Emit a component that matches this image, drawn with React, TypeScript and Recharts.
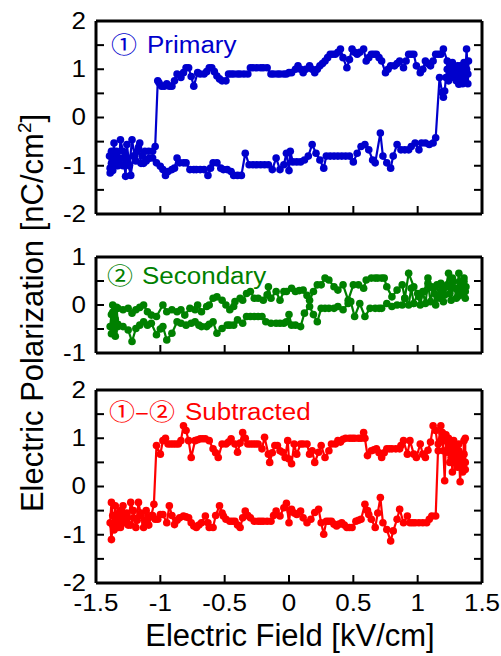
import React from "react";
import { ScatterChart, Scatter, XAxis, YAxis } from "recharts";

// tick values
const xTicks = [-1.5, -1, -0.5, 0, 0.5, 1, 1.5];
const yTicksWide = [-2, -1.5, -1, -0.5, 0, 0.5, 1, 1.5, 2];
const yTicksNarrow = [-1, -0.5, 0, 0.5, 1];

// ① Primary  [field kV/cm, polarization nC/cm2]
const primaryLower: [number, number][] = [
  [-1.06, -0.84], [-1.03, -0.94], [-1.0, -1.01], [-0.98, -1.08], [-0.96, -1.2], [-0.94, -1.12], [-0.91, -1.08],
  [-0.89, -1.05], [-0.87, -0.84], [-0.85, -0.94], [-0.82, -0.94], [-0.8, -0.94], [-0.77, -1.08], [-0.74, -1.08],
  [-0.72, -1.08], [-0.69, -1.08], [-0.66, -1.08], [-0.63, -1.2], [-0.61, -1.05], [-0.59, -0.94], [-0.56, -0.94],
  [-0.53, -1.05], [-0.51, -1.08], [-0.48, -1.08], [-0.45, -1.12], [-0.43, -1.2], [-0.4, -1.2], [-0.37, -1.2],
  [-0.34, -0.74], [-0.31, -0.98], [-0.28, -0.98], [-0.25, -0.98], [-0.22, -0.98], [-0.19, -0.98], [-0.16, -0.98],
  [-0.13, -1.08], [-0.1, -0.84], [-0.07, -1.08], [-0.04, -0.98], [-0.02, -0.74], [0.0, -1.1], [0.01, -0.7],
  [0.03, -0.92], [0.06, -0.92], [0.09, -0.92], [0.12, -0.88], [0.15, -0.8], [0.18, -0.56], [0.21, -0.74],
  [0.24, -0.88], [0.27, -1.05], [0.29, -0.8], [0.32, -0.8], [0.35, -0.8], [0.38, -0.8], [0.41, -0.8],
  [0.44, -0.8], [0.47, -0.8], [0.5, -0.92], [0.53, -0.74], [0.56, -0.6], [0.59, -0.56], [0.62, -0.67],
  [0.65, -0.88], [0.67, -0.94], [0.71, -0.32], [0.73, -0.8], [0.76, -0.94], [0.79, -1.05], [0.81, -0.8],
  [0.84, -0.56], [0.87, -0.67], [0.9, -0.67], [0.93, -0.67], [0.95, -0.6], [0.98, -0.53], [1.01, -0.67],
  [1.03, -0.53], [1.06, -0.53], [1.09, -0.56], [1.12, -0.53], [1.14, -0.42],
];
const primaryRight: [number, number][] = [
  [1.17, 0.83], [1.19, 0.52], [1.2, 0.42], [1.21, 0.55], [1.22, 0.83], [1.23, 1.0], [1.24, 0.76], [1.25, 1.07],
  [1.26, 0.9], [1.27, 1.14], [1.28, 0.83], [1.29, 1.03], [1.3, 0.76], [1.31, 1.0], [1.32, 0.69], [1.33, 1.07],
  [1.34, 0.9], [1.35, 0.7], [1.36, 1.14], [1.37, 0.83], [1.38, 1.42], [1.39, 0.9], [1.395, 1.17], [1.39, 0.7],
  [1.38, 1.0], [1.37, 0.79], [1.35, 1.03], [1.33, 0.83], [1.31, 1.07], [1.29, 0.9], [1.27, 1.03],
];
const primaryUpper: [number, number][] = [
  [1.25, 1.07], [1.23, 1.17], [1.2, 1.42], [1.18, 1.31], [1.16, 1.31], [1.14, 1.31], [1.12, 1.17], [1.1, 1.07],
  [1.08, 1.12], [1.06, 1.17], [1.04, 1.0], [1.02, 0.93], [0.99, 1.07], [0.97, 1.31], [0.95, 1.31], [0.93, 1.31],
  [0.91, 1.17], [0.89, 1.03], [0.86, 1.17], [0.84, 1.12], [0.82, 1.07], [0.79, 1.07], [0.77, 1.0], [0.75, 0.93],
  [0.72, 1.17], [0.7, 1.24], [0.68, 1.31], [0.66, 1.31], [0.64, 1.31], [0.62, 1.24], [0.6, 1.17], [0.58, 1.42],
  [0.55, 1.35], [0.53, 1.31], [0.51, 1.35], [0.49, 1.42], [0.47, 1.2], [0.45, 1.03], [0.42, 1.24], [0.4, 1.42],
  [0.38, 1.35], [0.36, 1.31], [0.34, 1.31], [0.32, 1.31], [0.3, 1.24], [0.28, 1.17], [0.26, 1.12], [0.24, 1.07],
  [0.22, 1.0], [0.2, 0.93], [0.18, 1.0], [0.16, 1.07], [0.13, 1.0], [0.11, 0.93], [0.09, 1.0], [0.07, 1.07],
  [0.05, 1.0], [0.02, 0.93], [0.0, 0.93], [-0.02, 0.9], [-0.04, 0.9], [-0.07, 0.9], [-0.09, 0.9], [-0.12, 0.9],
  [-0.14, 0.9], [-0.17, 1.03], [-0.2, 1.03], [-0.22, 1.03], [-0.25, 1.03], [-0.28, 1.03], [-0.3, 1.03],
  [-0.32, 0.9], [-0.35, 0.9], [-0.38, 0.9], [-0.4, 0.9], [-0.43, 0.9], [-0.45, 0.9], [-0.47, 0.9], [-0.49, 0.76],
  [-0.52, 0.76], [-0.54, 0.8], [-0.56, 0.86], [-0.58, 0.95], [-0.6, 1.03], [-0.62, 1.03], [-0.64, 0.95],
  [-0.66, 0.9], [-0.69, 0.9], [-0.71, 0.93], [-0.74, 0.65], [-0.76, 0.85], [-0.78, 1.03], [-0.8, 1.03],
  [-0.82, 0.93], [-0.84, 0.83], [-0.87, 0.9], [-0.89, 0.76], [-0.91, 0.65], [-0.93, 0.65], [-0.95, 0.7],
  [-0.97, 0.65], [-0.99, 0.65], [-1.01, 0.72], [-1.02, 0.76],
];
const primaryLeft: [number, number][] = [
  [-1.04, -0.6], [-1.06, -0.7], [-1.09, -0.7], [-1.12, -0.7], [-1.14, -0.8], [-1.16, -0.53], [-1.18, -0.7],
  [-1.2, -0.8], [-1.22, -0.46], [-1.24, -1.0], [-1.26, -0.56], [-1.27, -1.22], [-1.29, -0.7], [-1.31, -0.46],
  [-1.32, -0.9], [-1.34, -0.7], [-1.35, -1.0], [-1.36, -0.53], [-1.37, -0.85], [-1.38, -0.7], [-1.39, -1.05],
  [-1.395, -0.8], [-1.39, -1.15], [-1.38, -0.95], [-1.37, -1.1], [-1.35, -0.75], [-1.33, -1.0], [-1.31, -0.85],
  [-1.29, -1.0], [-1.27, -0.8], [-1.25, -0.95], [-1.23, -1.2], [-1.21, -0.8], [-1.19, -0.9], [-1.17, -0.62],
  [-1.15, -0.95], [-1.13, -0.95], [-1.11, -0.9], [-1.09, -0.85],
];

// ② Secondary
const secondaryLower: [number, number][] = [
  [-1.33, -0.45], [-1.29, -0.45], [-1.25, -0.52], [-1.22, -0.76], [-1.19, -0.49], [-1.16, -0.42], [-1.13, -0.35],
  [-1.1, -0.42], [-1.07, -0.38], [-1.03, -0.62], [-1.0, -0.5], [-0.98, -0.45], [-0.95, -0.73], [-0.91, -0.59],
  [-0.87, -0.35], [-0.84, -0.38], [-0.8, -0.42], [-0.76, -0.38], [-0.73, -0.35], [-0.7, -0.42], [-0.68, -0.45],
  [-0.64, -0.45], [-0.62, -0.4], [-0.59, -0.35], [-0.56, -0.59], [-0.52, -0.49], [-0.48, -0.42], [-0.46, -0.42],
  [-0.43, -0.42], [-0.4, -0.31], [-0.36, -0.38], [-0.33, -0.24], [-0.3, -0.24], [-0.27, -0.24], [-0.24, -0.24],
  [-0.21, -0.24], [-0.18, -0.35], [-0.14, -0.38], [-0.1, -0.38], [-0.07, -0.38], [-0.04, -0.38], [-0.02, -0.35],
  [0.0, -0.2], [0.02, -0.42], [0.05, -0.42], [0.09, -0.45], [0.12, -0.17], [0.16, -0.03], [0.19, -0.2],
  [0.22, -0.35], [0.25, -0.07], [0.28, -0.07], [0.31, -0.07], [0.35, -0.07], [0.38, -0.03], [0.42, -0.1],
  [0.46, 0.03], [0.48, 0.07], [0.51, -0.24], [0.55, 0.03], [0.59, -0.24], [0.63, -0.07], [0.67, -0.07],
  [0.7, -0.07], [0.72, -0.07], [0.76, 0.03], [0.8, -0.03], [0.84, 0.0], [0.88, 0.0],
];
const secondaryRight: [number, number][] = [
  [0.9, 0.14], [0.93, 0.0], [0.95, 0.35], [0.97, 0.03], [1.0, 0.24], [1.02, 0.0], [1.04, 0.28], [1.06, 0.03],
  [1.08, 0.45], [1.1, 0.07], [1.12, 0.35], [1.14, 0.0], [1.16, 0.17], [1.18, 0.45], [1.2, 0.07], [1.22, 0.38],
  [1.24, 0.66], [1.26, 0.1], [1.28, 0.49], [1.3, 0.14], [1.32, 0.66], [1.34, 0.21], [1.36, 0.49], [1.37, 0.14],
  [1.375, 0.38], [1.37, 0.28], [1.36, 0.56], [1.34, 0.31], [1.33, 0.49], [1.31, 0.17], [1.29, 0.35], [1.27, 0.56],
  [1.25, 0.24], [1.23, 0.42], [1.21, 0.21], [1.19, 0.38], [1.17, 0.14], [1.15, 0.42], [1.13, 0.24], [1.11, 0.38],
];
const secondaryUpper: [number, number][] = [
  [1.08, 0.56], [1.05, 0.28], [1.01, 0.17], [0.97, 0.38], [0.93, 0.66], [0.9, 0.14], [0.88, 0.42], [0.84, 0.31],
  [0.8, 0.17], [0.76, 0.38], [0.74, 0.56], [0.72, 0.56], [0.69, 0.56], [0.67, 0.56], [0.64, 0.56], [0.6, 0.52],
  [0.58, 0.35], [0.54, 0.42], [0.5, 0.42], [0.46, 0.1], [0.42, 0.42], [0.38, 0.31], [0.35, 0.38], [0.31, 0.52],
  [0.28, 0.56], [0.25, 0.42], [0.22, 0.42], [0.19, 0.28], [0.16, 0.1], [0.14, 0.2], [0.11, 0.31], [0.08, 0.3],
  [0.05, 0.28], [0.02, 0.35], [-0.02, 0.28], [-0.04, 0.28], [-0.07, 0.1], [-0.1, 0.28], [-0.14, 0.14],
  [-0.16, 0.38], [-0.17, 0.21], [-0.2, 0.1], [-0.24, 0.14], [-0.27, 0.14], [-0.3, 0.28], [-0.33, 0.24],
  [-0.36, 0.1], [-0.38, 0.14], [-0.42, 0.07], [-0.43, -0.03], [-0.46, -0.1], [-0.49, 0.0], [-0.52, 0.1],
  [-0.56, 0.17], [-0.59, 0.14], [-0.62, 0.0], [-0.64, -0.03], [-0.68, -0.14], [-0.71, 0.0], [-0.73, -0.1],
  [-0.77, -0.07], [-0.81, -0.21], [-0.84, -0.1], [-0.87, -0.14], [-0.91, -0.1], [-0.95, -0.14], [-0.98, 0.0],
  [-1.03, -0.24], [-1.07, -0.21], [-1.1, -0.14], [-1.13, 0.0], [-1.16, -0.05], [-1.19, -0.1], [-1.22, -0.17],
  [-1.25, -0.07], [-1.29, -0.1], [-1.33, -0.07], [-1.37, 0.0],
];
const secondaryLeft: [number, number][] = [
  [-1.38, -0.2], [-1.39, -0.45], [-1.38, -0.6], [-1.37, -0.15], [-1.36, -0.55], [-1.35, -0.3], [-1.34, -0.05],
  [-1.33, -0.4], [-1.35, -0.65],
];

// ①-② Subtracted
const subtractedLower: [number, number][] = [
  [-1.06, -0.6], [-1.04, -0.68], [-1.02, -0.68], [-1.0, -0.58], [-0.98, -0.58], [-0.95, -0.75], [-0.93, -0.4],
  [-0.91, -0.6], [-0.89, -0.79], [-0.87, -0.7], [-0.85, -0.65], [-0.82, -0.61], [-0.8, -0.63], [-0.78, -0.65],
  [-0.76, -0.75], [-0.74, -0.82], [-0.72, -0.85], [-0.7, -0.8], [-0.68, -0.75], [-0.65, -0.61], [-0.63, -0.75],
  [-0.62, -0.85], [-0.59, -0.85], [-0.57, -0.6], [-0.54, -0.4], [-0.52, -0.55], [-0.51, -0.61], [-0.49, -0.68],
  [-0.46, -0.72], [-0.44, -0.72], [-0.42, -0.72], [-0.4, -0.8], [-0.38, -0.85], [-0.36, -0.65], [-0.34, -0.51],
  [-0.32, -0.6], [-0.3, -0.65], [-0.27, -0.72], [-0.24, -0.72], [-0.22, -0.72], [-0.2, -0.72], [-0.17, -0.72],
  [-0.14, -0.72], [-0.12, -0.6], [-0.1, -0.51], [-0.07, -0.61], [-0.04, -0.44], [-0.02, -0.35], [0.0, -0.75],
  [0.01, -0.5], [0.02, -0.47], [0.04, -0.55], [0.06, -0.58], [0.09, -0.51], [0.11, -0.65], [0.14, -0.75],
  [0.17, -0.68], [0.2, -0.54], [0.23, -0.47], [0.25, -0.75], [0.27, -0.99], [0.29, -0.72], [0.31, -0.72],
  [0.33, -0.72], [0.35, -0.78], [0.37, -0.82], [0.39, -0.78], [0.41, -0.75], [0.43, -0.8], [0.45, -0.85],
  [0.47, -0.85], [0.49, -0.85], [0.52, -0.72], [0.54, -0.7], [0.56, -0.68], [0.59, -0.37], [0.61, -0.5],
  [0.62, -0.58], [0.64, -0.68], [0.67, -0.85], [0.69, -0.55], [0.71, -0.23], [0.73, -0.75], [0.76, -0.89],
  [0.79, -1.13], [0.81, -0.92], [0.84, -0.68], [0.86, -0.47], [0.89, -0.75], [0.92, -0.61], [0.94, -0.75],
  [0.96, -0.75], [0.98, -0.75], [1.01, -0.75], [1.04, -0.75], [1.07, -0.75], [1.09, -0.68], [1.11, -0.61],
  [1.14, -0.61],
];
const subtractedRight: [number, number][] = [
  [1.16, 0.88], [1.18, 1.26], [1.19, 1.12], [1.2, 0.74], [1.21, 0.12], [1.22, 0.95], [1.23, 0.71], [1.24, 1.0],
  [1.25, 0.5], [1.26, 0.78], [1.27, 0.3], [1.28, 0.67], [1.29, 0.5], [1.3, 0.85], [1.31, 0.4], [1.32, 0.74],
  [1.33, 0.1], [1.34, 0.6], [1.35, 0.3], [1.36, 0.95], [1.37, 0.5], [1.37, 1.0], [1.37, 0.35], [1.36, 0.67],
  [1.34, 0.45], [1.32, 0.88], [1.3, 0.55], [1.28, 0.95], [1.26, 0.6], [1.24, 0.88], [1.22, 1.07], [1.2, 0.95],
];
const subtractedUpper: [number, number][] = [
  [1.19, 1.12], [1.16, 0.74], [1.14, 1.16], [1.12, 1.26], [1.1, 0.92], [1.08, 0.75], [1.06, 0.6], [1.04, 0.67],
  [1.02, 0.88], [0.99, 0.6], [0.97, 0.67], [0.94, 0.95], [0.92, 0.67], [0.89, 0.95], [0.87, 0.85], [0.86, 0.78],
  [0.83, 0.78], [0.8, 0.78], [0.78, 0.78], [0.76, 0.78], [0.74, 0.7], [0.72, 0.6], [0.7, 0.7], [0.68, 0.78],
  [0.66, 0.76], [0.64, 0.74], [0.61, 0.64], [0.59, 1.0], [0.58, 1.12], [0.56, 1.0], [0.54, 1.0], [0.51, 1.0],
  [0.49, 1.0], [0.47, 1.0], [0.44, 1.0], [0.42, 0.98], [0.4, 0.92], [0.38, 0.95], [0.36, 0.88], [0.33, 0.88],
  [0.31, 0.74], [0.28, 0.6], [0.25, 0.85], [0.23, 0.71], [0.2, 0.5], [0.18, 0.74], [0.16, 0.67], [0.14, 0.88],
  [0.11, 0.88], [0.09, 0.88], [0.06, 0.67], [0.04, 0.88], [0.02, 0.47], [0.0, 0.57], [-0.01, 0.95],
  [-0.03, 0.6], [-0.05, 0.71], [-0.07, 0.74], [-0.09, 0.85], [-0.11, 0.85], [-0.13, 0.7], [-0.15, 0.5],
  [-0.16, 0.67], [-0.19, 1.02], [-0.21, 0.78], [-0.24, 0.88], [-0.26, 0.88], [-0.28, 0.88], [-0.3, 0.88],
  [-0.32, 0.88], [-0.34, 1.0], [-0.36, 1.12], [-0.38, 0.9], [-0.4, 0.71], [-0.42, 0.88], [-0.45, 0.99],
  [-0.47, 0.92], [-0.49, 0.88], [-0.52, 0.88], [-0.55, 0.6], [-0.57, 0.7], [-0.59, 0.78], [-0.62, 0.95],
  [-0.65, 0.99], [-0.67, 0.99], [-0.69, 0.99], [-0.71, 0.97], [-0.73, 0.95], [-0.76, 0.6], [-0.78, 0.95],
  [-0.8, 1.16], [-0.82, 1.26], [-0.84, 0.95], [-0.86, 0.88], [-0.88, 0.88], [-0.9, 0.88], [-0.92, 0.88],
  [-0.94, 0.88], [-0.96, 1.0], [-0.98, 0.95], [-1.0, 0.67], [-1.03, 0.85],
];
const subtractedLeft: [number, number][] = [
  [-1.05, -0.37], [-1.07, -0.6], [-1.09, -0.8], [-1.11, -0.5], [-1.13, -0.85], [-1.15, -0.6], [-1.17, -0.33],
  [-1.19, -0.85], [-1.21, -0.5], [-1.23, -0.33], [-1.25, -0.8], [-1.27, -0.6], [-1.29, -0.4], [-1.31, -0.85],
  [-1.32, -0.55], [-1.34, -0.7], [-1.35, -0.4], [-1.36, -0.9], [-1.37, -0.6], [-1.38, -0.33], [-1.39, -0.75],
  [-1.38, -1.1], [-1.37, -0.8], [-1.35, -0.6], [-1.33, -0.85], [-1.31, -0.5], [-1.28, -0.75], [-1.26, -0.55],
  [-1.23, -0.8], [-1.21, -0.65], [-1.18, -0.7], [-1.15, -0.55], [-1.12, -0.75], [-1.09, -0.65],
];

const BLUE = "#0000cc";
const GREEN = "#008000";
const RED = "#ff0000";
const FONT = "'Liberation Sans', Arial, sans-serif";
const CJK = "'Noto Sans CJK JP', 'Liberation Sans', sans-serif";
const STRETCH = 1.13; // the original lettering is a bit wide

const W = 501;
const H = 656;

// loop order: lower branch -> right end -> upper branch -> left end
const toPoints = (...parts: [number, number][][]) =>
  parts.flat().map(([x, y]) => ({ x, y }));

const primaryData = toPoints(primaryLower, primaryRight, primaryUpper, primaryLeft);
const secondaryData = toPoints(secondaryLower, secondaryRight, secondaryUpper, secondaryLeft);
const subtractedData = toPoints(subtractedLower, subtractedRight, subtractedUpper, subtractedLeft);

function YTick({ x, y, payload }: any) {
  if (!Number.isInteger(payload.value)) return <g />;
  return (
    <text
      transform={`translate(${x},${y}) scale(${STRETCH},1)`}
      textAnchor="end"
      dominantBaseline="central"
      fontSize={23}
      fontFamily={FONT}
      fill="#000"
    >
      {payload.value}
    </text>
  );
}

function XTick({ x, y, payload }: any) {
  return (
    <text
      transform={`translate(${x},${y}) scale(${STRETCH},1)`}
      textAnchor="middle"
      dy="0.71em"
      fontSize={23}
      fontFamily={FONT}
      fill="#000"
    >
      {payload.value}
    </text>
  );
}

const NoTick = () => <g />;

const frame = { stroke: "#000", strokeWidth: 3 };
const tickStroke = { stroke: "#000", strokeWidth: 2 };

interface PanelProps {
  data: { x: number; y: number }[];
  color: string;
  yDomain: [number, number];
  yTicks: number[];
  plotTop: number;
  plotBottom: number;
  xLabels?: boolean;
}

function Panel({ data, color, yDomain, yTicks, plotTop, plotBottom, xLabels }: PanelProps) {
  const dot = (p: any) => <circle cx={p.cx} cy={p.cy} r={3.8} fill={color} />;
  return (
    <div style={{ position: "absolute", left: 0, top: 0 }}>
      <ScatterChart
        width={W}
        height={H}
        margin={{ top: plotTop - 1, bottom: H - plotBottom - 1, left: 95, right: 18 }}
      >
        <XAxis
          type="number"
          dataKey="x"
          domain={[-1.5, 1.5]}
          ticks={xTicks}
          interval={0}
          allowDataOverflow
          height={1}
          tickSize={-8}
          tickMargin={20}
          axisLine={frame}
          tickLine={tickStroke}
          tick={xLabels ? <XTick /> : <NoTick />}
        />
        <XAxis
          xAxisId="top"
          orientation="top"
          type="number"
          domain={[-1.5, 1.5]}
          ticks={xTicks}
          interval={0}
          allowDataOverflow
          height={1}
          tickSize={-8}
          axisLine={frame}
          tickLine={tickStroke}
          tick={<NoTick />}
        />
        <YAxis
          type="number"
          dataKey="y"
          domain={yDomain}
          ticks={yTicks}
          interval={0}
          allowDataOverflow
          width={1}
          tickSize={-8}
          tickMargin={18}
          axisLine={frame}
          tickLine={tickStroke}
          tick={<YTick />}
        />
        <YAxis
          yAxisId="right"
          orientation="right"
          type="number"
          domain={yDomain}
          ticks={yTicks}
          interval={0}
          allowDataOverflow
          width={1}
          tickSize={-8}
          axisLine={frame}
          tickLine={tickStroke}
          tick={<NoTick />}
        />
        <Scatter
          data={data}
          fill={color}
          line={{ stroke: color, strokeWidth: 2.2 }}
          lineJointType="linear"
          shape={dot}
          legendType="none"
          isAnimationActive={false}
        />
      </ScatterChart>
    </div>
  );
}

function PanelLabel({ x, y, mark, word, wordX, color }: any) {
  return (
    <g fill={color}>
      <text transform={`translate(${x},${y}) scale(${STRETCH},1)`} fontSize={23} fontFamily={CJK}>
        {mark}
      </text>
      <text transform={`translate(${wordX},${y}) scale(${STRETCH},1)`} fontSize={23} fontFamily={FONT}>
        {word}
      </text>
    </g>
  );
}

export default function App() {
  return (
    <div style={{ position: "absolute", left: 0, top: 0, width: W, height: H, background: "#fff", overflow: "hidden" }}>
      <Panel data={primaryData} color={BLUE} yDomain={[-2, 2]} yTicks={yTicksWide} plotTop={21} plotBottom={214} />
      <Panel data={secondaryData} color={GREEN} yDomain={[-1, 1]} yTicks={yTicksNarrow} plotTop={257} plotBottom={353} />
      <Panel data={subtractedData} color={RED} yDomain={[-2, 2]} yTicks={yTicksWide} plotTop={390} plotBottom={583} xLabels />
      <svg width={W} height={H} style={{ position: "absolute", left: 0, top: 0, pointerEvents: "none" }}>
        <PanelLabel x={111} y={53} mark="①" word="Primary" wordX={147} color={BLUE} />
        <PanelLabel x={107} y={284} mark="②" word="Secondary" wordX={142} color={GREEN} />
        <PanelLabel x={109} y={420} mark="①–②" word="Subtracted" wordX={185} color={RED} />
        <text x={290} y={646} textAnchor="middle" fontSize={31} fontFamily={FONT} fill="#000">
          Electric Field [kV/cm]
        </text>
        <text transform="translate(43,313) rotate(-90)" textAnchor="middle" fontSize={31} fontFamily={FONT} fill="#000">
          Electric Polarization [nC/cm
          <tspan dy={-12} fontSize={19}>2</tspan>
          <tspan dy={12}>]</tspan>
        </text>
      </svg>
    </div>
  );
}
